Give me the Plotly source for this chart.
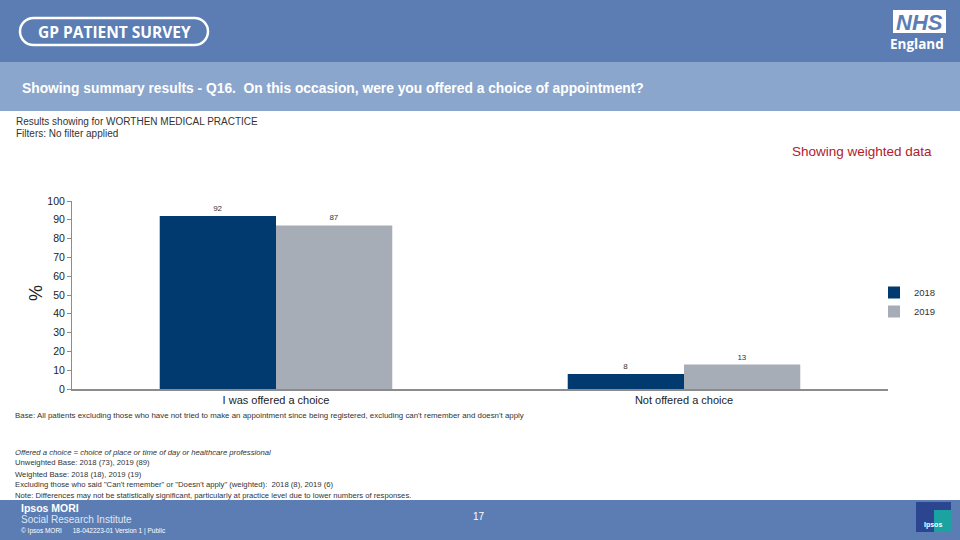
import plotly.graph_objects as go

categories = ["I was offered a choice", "Not offered a choice"]
years = ["2018", "2019"]
values_2018 = [92, 8]
values_2019 = [87, 13]
y_ticks = [0, 10, 20, 30, 40, 50, 60, 70, 80, 90, 100]

W, H = 960, 540
def px(x):
    return x / W
def py(y):
    return 1 - y / H

FONT = "Liberation Sans, Arial, sans-serif"
DARK = "#5b7db4"
LIGHT = "#8ba6cc"
C2018 = "#003a6e"
C2019 = "#a6adb6"

fig = go.Figure()
for name, vals, col in [(years[0], values_2018, C2018), (years[1], values_2019, C2019)]:
    fig.add_trace(go.Bar(
        x=categories, y=vals, name=name, marker=dict(color=col, line=dict(width=0)),
        text=vals, textposition="outside", cliponaxis=False,
        textfont=dict(size=8, color="#333333", family=FONT),
    ))

shapes = [
    dict(type="rect", xref="paper", yref="paper", x0=0, x1=1, y0=py(62), y1=1,
         fillcolor=DARK, line=dict(width=0), layer="below"),
    dict(type="rect", xref="paper", yref="paper", x0=0, x1=1, y0=py(111), y1=py(62),
         fillcolor=LIGHT, line=dict(width=0), layer="below"),
    dict(type="rect", xref="paper", yref="paper", x0=0, x1=1, y0=0, y1=py(500),
         fillcolor=DARK, line=dict(width=0), layer="below"),
    dict(type="rect", xref="paper", yref="paper", x0=px(893), x1=px(946), y0=py(33), y1=py(10),
         fillcolor="white", line=dict(width=0)),
    dict(type="rect", xref="paper", yref="paper", x0=px(916), x1=px(951), y0=py(532), y1=py(502),
         fillcolor="#2b4591", line=dict(width=0)),
    dict(type="rect", xref="paper", yref="paper", x0=px(934), x1=px(951), y0=py(532), y1=py(510),
         fillcolor="#1aa3a0", line=dict(width=0)),
]

x0, x1, y0, y1 = 20, 208, 18, 45
r = (y1 - y0) / 2
k = 0.552 * r
def P(x, y):
    return f"{px(x):.5f},{py(y):.5f}"
path = (f"M {P(x0 + r, y0)} L {P(x1 - r, y0)} "
        f"C {P(x1 - r + k, y0)} {P(x1, y0 + r - k)} {P(x1, y0 + r)} "
        f"C {P(x1, y0 + r + k)} {P(x1 - r + k, y1)} {P(x1 - r, y1)} "
        f"L {P(x0 + r, y1)} "
        f"C {P(x0 + r - k, y1)} {P(x0, y0 + r + k)} {P(x0, y0 + r)} "
        f"C {P(x0, y0 + r - k)} {P(x0 + r - k, y0)} {P(x0 + r, y0)} Z")
shapes.append(dict(type="path", xref="paper", yref="paper", path=path,
                   line=dict(color="white", width=2.5), fillcolor="rgba(0,0,0,0)"))

def ann(x, y, text, size, color="#333333", xanchor="left", bold=False, italic=False, angle=0, family=FONT):
    t = text
    if bold:
        t = f"<b>{t}</b>"
    if italic:
        t = f"<i>{t}</i>"
    return dict(xref="paper", yref="paper", x=px(x), y=py(y), text=t, showarrow=False,
                xanchor=xanchor, yanchor="middle", textangle=angle,
                font=dict(size=size, color=color, family=family))

annotations = [
    ann(114, 32, "GP PATIENT SURVEY", 15.5, "white", "center", bold=True, family="Open Sans, Liberation Sans, sans-serif"),
    ann(919.5, 22, "NHS", 22, DARK, "center", bold=True, italic=True),
    ann(946, 44, "England", 13.5, "white", "right", bold=True, family="Open Sans, Liberation Sans, sans-serif"),
    ann(20, 88, "Showing summary results - Q16.  On this occasion, were you offered a choice of appointment?", 13.8, "white", bold=True),
    ann(14, 121, "Results showing for WORTHEN MEDICAL PRACTICE", 10, "#333333"),
    ann(14, 134, "Filters: No filter applied", 10, "#333333"),
    ann(934, 152, "Showing weighted data", 13.5, "#b3202a", "right"),
    ann(36, 293, "%", 18, "#222222", "center", angle=-90),
    ann(13, 415, "Base: All patients excluding those who have not tried to make an appointment since being registered, excluding can't remember and doesn't apply", 7.9, "#333333"),
    ann(13, 452, "Offered a choice = choice of place or time of day or healthcare professional", 7.7, "#333333", italic=True),
    ann(13, 462, "Unweighted Base: 2018 (73), 2019 (89)", 7.7, "#333333"),
    ann(13, 474, "Weighted Base: 2018 (18), 2019 (19)", 7.7, "#333333"),
    ann(13, 484, "Excluding those who said \"Can't remember\" or \"Doesn't apply\" (weighted):  2018 (8), 2019 (6)", 7.7, "#333333"),
    ann(13, 495, "Note: Differences may not be statistically significant, particularly at practice level due to lower numbers of responses.", 7.7, "#333333"),
    ann(19, 508, "Ipsos MORI", 10.5, "white", bold=True),
    ann(19, 519, "Social Research Institute", 10, "#dfe6f2"),
    ann(19, 531, "© Ipsos MORI      18-042223-01 Version 1 | Public", 6.5, "white"),
    ann(479, 516, "17", 10, "white", "center"),
    ann(933, 525, "Ipsos", 7, "white", "center", bold=True),
]

fig.update_layout(
    width=W, height=H,
    margin=dict(l=0, r=0, t=0, b=0, pad=0, autoexpand=False),
    paper_bgcolor="white", plot_bgcolor="white",
    barmode="group", bargap=0.43, bargroupgap=0,
    font=dict(family=FONT, color="#333333"),
    showlegend=True,
    legend=dict(x=px(874), y=py(302), xanchor="left", yanchor="middle",
                font=dict(size=9.5, color="#333333"), tracegroupgap=0,
                bgcolor="rgba(0,0,0,0)", itemwidth=30),
    xaxis=dict(domain=[px(72), px(888)], showline=True, linecolor="#8c8c8c", linewidth=2,
               ticks="", tickfont=dict(size=11, color="#222222"), showgrid=False,
               automargin=False),
    yaxis=dict(domain=[py(389), py(201)], range=[0, 100], tickvals=y_ticks,
               showline=True, linecolor="#8c8c8c", linewidth=1, ticks="outside",
               ticklen=4, tickcolor="#8c8c8c", showgrid=False, zeroline=False,
               tickfont=dict(size=10.5, color="#222222"), automargin=False),
    shapes=shapes, annotations=annotations,
)

fig.write_html("out.html", config={"displayModeBar": False},
               post_script="document.body.style.margin='0';document.body.style.overflow='hidden';")
